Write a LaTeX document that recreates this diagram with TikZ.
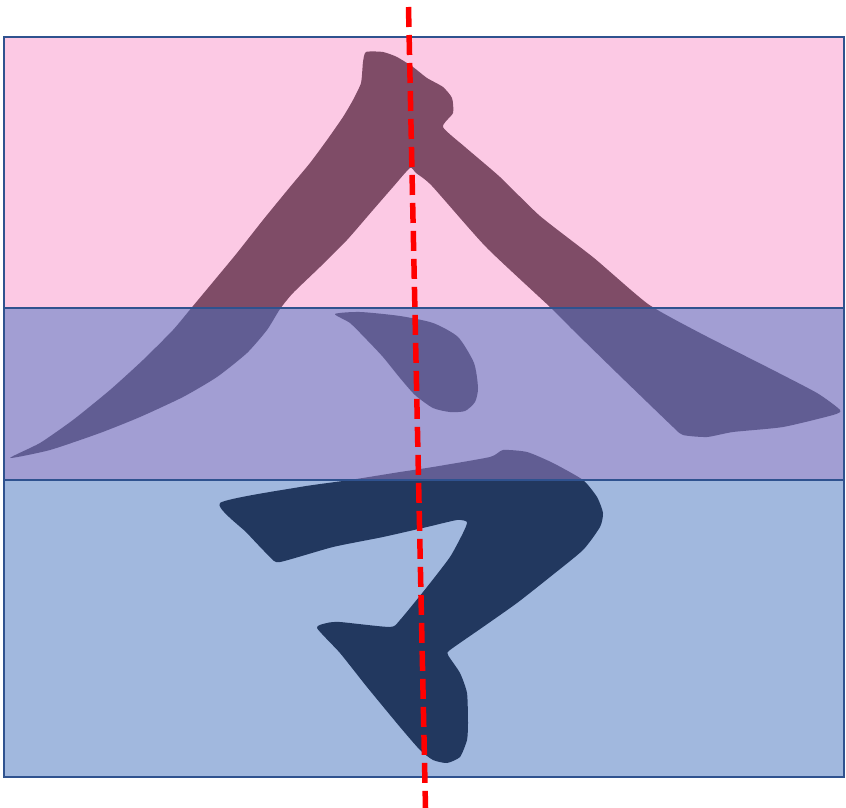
\documentclass[tikz,border=0pt]{standalone}
\definecolor{pinkbg}{RGB}{252,201,228}
\definecolor{purplebg}{RGB}{162,158,211}
\definecolor{bluebg}{RGB}{161,184,222}
\definecolor{pinkink}{RGB}{127,76,103}
\definecolor{purpleink}{RGB}{97,93,147}
\definecolor{blueink}{RGB}{34,56,95}
\definecolor{rimblue}{RGB}{47,82,143}
\newcommand\glyphstrokes[1]{%
  \fill[#1] plot[smooth cycle,tension=0.35] coordinates {
    (10,458) (40,443) (73,420) (110,390) (143,360) (173,330) (193,306) (213,282)
    (237,253) (263,220) (290,187) (310,163) (327,140) (343,117) (353,100) (361,83)
    (363,62) (366,52) (383,52) (397,57) (413,67) (427,78) (443,87) (452,98)
    (453,113) (443,127) (465,147) (500,177) (540,216) (594,258) (648,304) (700,333)
    (767,367) (817,393) (840,410) (833,415) (783,427) (733,432) (707,437) (683,435)
    (673,427) (617,373) (573,330) (550,307) (486,247) (432,186) (416,173) (410,168)
    (393,187) (373,210) (347,240) (320,267) (293,293) (280,309) (267,330) (247,353)
    (217,377) (183,397) (140,417) (100,433) (50,450)};
  \fill[#1] plot[smooth cycle,tension=0.4] coordinates {
    (335,314) (360,312) (400,316) (433,323) (458,337) (474,363) (478,388) (475,402)
    (465,411) (450,412) (433,408) (415,395) (400,378) (383,357) (367,340) (350,323)};
  \fill[#1] plot[smooth cycle,tension=0.35] coordinates {
    (220,503) (300,487) (350,480) (400,472) (433,467) (490,457) (503,450) (527,452)
    (553,463) (583,480) (597,497) (603,513) (600,527) (583,550) (550,577) (517,603)
    (483,627) (450,650) (448,655) (460,673) (467,693) (468,723) (467,740) (460,757)
    (447,763) (433,760) (420,750) (400,727) (367,687) (340,653) (317,628) (327,623)
    (340,622) (390,627) (400,620) (427,587) (450,557) (463,533) (467,522) (457,520)
    (427,527) (383,537) (333,547) (280,562) (270,557) (247,533)};
}
\begin{document}
\begin{tikzpicture}[x=1pt,y=-1pt,
  rim/.style={draw=rimblue,line width=1.8pt},
  axisline/.style={red,line width=5.5pt,dash pattern=on 20pt off 8pt}]
\useasboundingbox (0,0) rectangle (846,808);
\fill[white] (0,0) rectangle (846,808);
% pink band
\begin{scope}
  \clip (4,37) rectangle (844,308);
  \fill[pinkbg] (4,37) rectangle (844,308);
  \glyphstrokes{pinkink}
\end{scope}
% purple band
\begin{scope}
  \clip (4,308) rectangle (844,480);
  \fill[purplebg] (4,308) rectangle (844,480);
  \glyphstrokes{purpleink}
\end{scope}
% blue band
\begin{scope}
  \clip (4,480) rectangle (844,777);
  \fill[bluebg] (4,480) rectangle (844,777);
  \glyphstrokes{blueink}
\end{scope}
\draw[rim] (4,37) rectangle (844,308);
\draw[rim] (4,480) rectangle (844,777);
\draw[rim] (4,308) rectangle (844,480);
\coordinate (axtop) at (408.5,7);
\coordinate (axbot) at (425.5,808);
\draw[axisline] (axtop) -- (axbot);
\end{tikzpicture}
\end{document}
